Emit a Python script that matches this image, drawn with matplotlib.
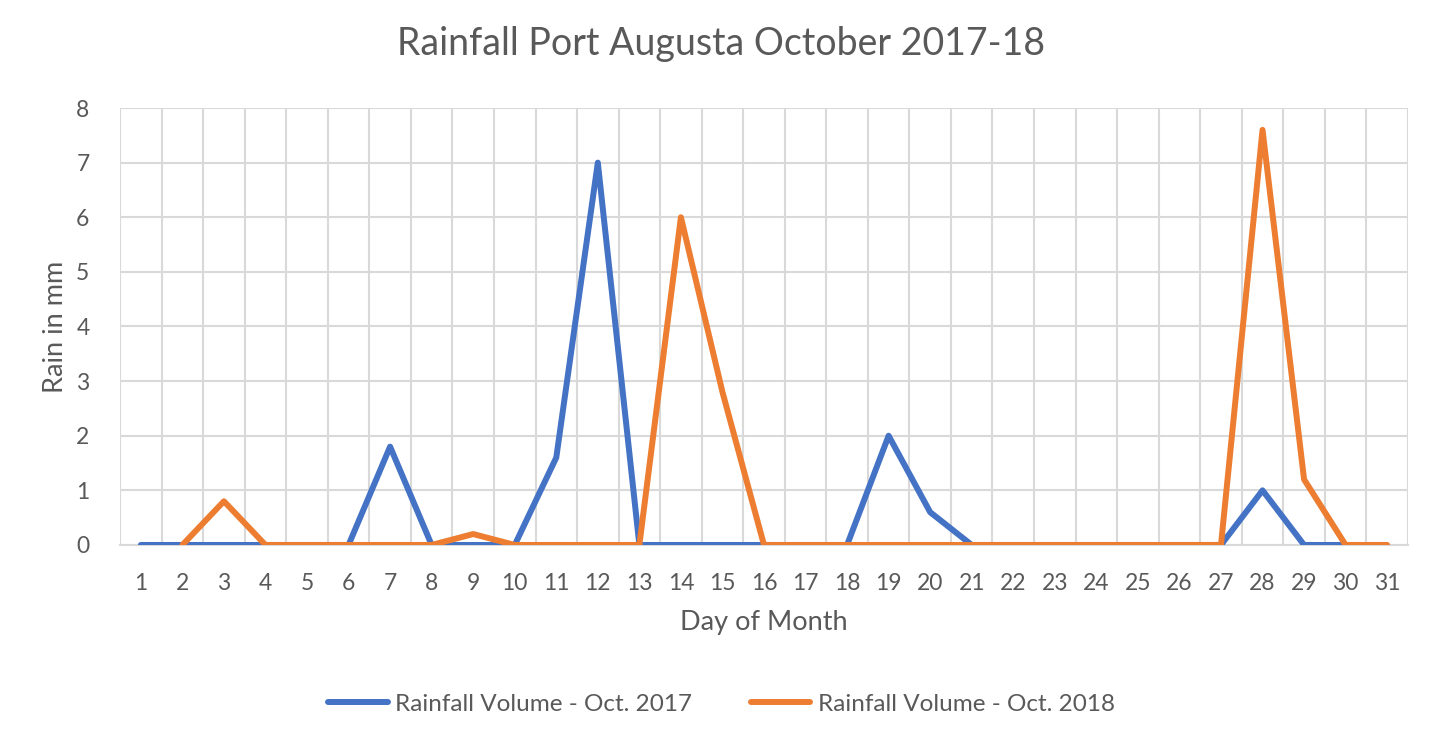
import matplotlib.pyplot as plt
import numpy as np

days = list(range(1, 32))
rain_2017 = [0, 0, 0, 0, 0, 0, 1.8, 0, 0, 0, 1.6, 7, 0, 0, 0, 0, 0, 0, 2, 0.6,
             0, 0, 0, 0, 0, 0, 0, 1, 0, 0, None]
rain_2018 = [None, 0, 0.8, 0, 0, 0, 0, 0, 0.2, 0, 0, 0, 0, 6, 2.8, 0, 0, 0, 0, 0,
             0, 0, 0, 0, 0, 0, 0, 7.6, 1.2, 0, 0]
labels = ["Rainfall Volume - Oct. 2017", "Rainfall Volume - Oct. 2018"]
title = "Rainfall Port Augusta October 2017-18"

plt.rcParams['font.family'] = ['Lato', 'DejaVu Sans']
text_col = '#595959'
grid_col = '#D9D9D9'

fig = plt.figure(figsize=(14.43, 7.45), dpi=100)
ax = fig.add_axes([0.0832, 0.2685, 0.8925, 0.5865])

y17 = np.array([np.nan if v is None else v for v in rain_2017], dtype=float)
y18 = np.array([np.nan if v is None else v for v in rain_2018], dtype=float)
ax.plot(days, y17, color='#4472C4', lw=4.3, solid_capstyle='round',
        solid_joinstyle='round', label=labels[0], zorder=3)
ax.plot(days, y18, color='#ED7D31', lw=4.3, solid_capstyle='round',
        solid_joinstyle='round', label=labels[1], zorder=4)

ax.set_xlim(0.5, 31.5)
ax.set_ylim(0, 8)
ax.set_xticks(days)
ax.set_yticks(range(0, 9))
ax.set_xticks(np.arange(0.5, 32, 1), minor=True)
ax.grid(False)
ax.grid(True, which='minor', axis='x', color=grid_col, lw=1.5)
ax.grid(True, which='major', axis='y', color=grid_col, lw=1.5)
ax.set_axisbelow(True)
ax.tick_params(which='both', length=0)
ax.tick_params(axis='x', labelsize=16.5, colors=text_col, pad=20)
ax.tick_params(axis='y', labelsize=16.5, colors=text_col, pad=22)
for s in ['top', 'right', 'left']:
    ax.spines[s].set_visible(False)
ax.spines['bottom'].set_color(grid_col)
ax.spines['bottom'].set_linewidth(1.5)

ax.set_xlabel("Day of Month", fontsize=19.5, color=text_col, labelpad=12)
ax.set_ylabel("Rain in mm", fontsize=19.5, color=text_col, labelpad=6)
fig.suptitle(title, fontsize=27, color=text_col, y=0.965)

leg = fig.legend(loc='center', bbox_to_anchor=(0.5, 0.055), ncol=2, frameon=False,
                 fontsize=17.5, handlelength=2.45, handletextpad=0.3, columnspacing=2.4)
for t in leg.get_texts():
    t.set_color(text_col)

fig.savefig('out.png', dpi=100)
